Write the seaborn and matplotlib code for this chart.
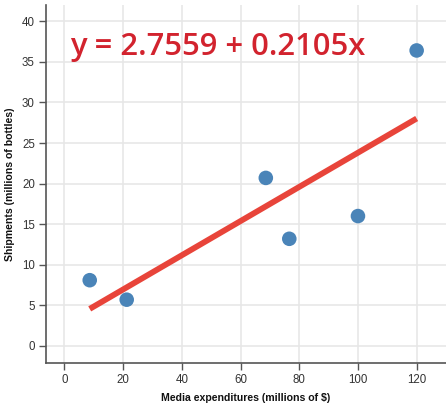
import numpy as np
import pandas as pd
import matplotlib
matplotlib.use("Agg")
import matplotlib.pyplot as plt
import seaborn as sns

# Media spend vs. shipments
media = [8.6, 21.2, 68.6, 76.6, 100.0, 120.0]
shipments = [8.1, 5.7, 20.7, 13.2, 16.0, 36.4]

# Fitted regression coefficients
intercept = 2.7559
slope = 0.2105

x_ticks = [0, 20, 40, 60, 80, 100, 120]
y_ticks = [0, 5, 10, 15, 20, 25, 30, 35, 40]

sns.set_theme(style="white")
plt.rcParams["font.family"] = ["Liberation Sans", "DejaVu Sans"]

df = pd.DataFrame({"media": media, "shipments": shipments})
fit_x = np.array([min(media), max(media)])
fit = pd.DataFrame({"media": fit_x, "shipments": intercept + slope * fit_x})

fig = plt.figure(figsize=(4.46, 4.07), dpi=100)
ax = fig.add_axes([46 / 446, 44 / 407, 400 / 446, 358 / 407])

ax.set_xlim(-6.3, 130)
ax.set_ylim(-2.1, 42)
ax.set_xticks(x_ticks)
ax.set_yticks(y_ticks)
ax.grid(True, color="#e6e6e6", linewidth=1.1)
ax.set_axisbelow(True)

sns.lineplot(data=fit, x="media", y="shipments", ax=ax, color="#e8443a",
             linewidth=4.2, solid_capstyle="butt", zorder=2)
sns.scatterplot(data=df, x="media", y="shipments", ax=ax, color="#4a84b8",
                s=110, edgecolor="none", zorder=3)

ax.text(1.8, 36.8,
        f"y = {intercept:.4f} + {slope:.4f}x",
        color="#d2232e", fontsize=22.3, fontweight=600,
        family=["Open Sans", "DejaVu Sans"], va="center", ha="left")

for side in ("top", "right"):
    ax.spines[side].set_visible(False)
for side in ("left", "bottom"):
    ax.spines[side].set_color("#555555")
    ax.spines[side].set_linewidth(1.2)

ax.tick_params(axis="both", which="both", length=5, width=1, color="#555555",
               labelsize=8.3, labelcolor="#333333", pad=3,
               bottom=True, left=True)

ax.set_xlabel("Media expenditures (millions of $)", fontsize=7.6,
              fontweight="bold", color="#111111", labelpad=5)
ax.set_ylabel("Shipments (millions of bottles)", fontsize=7.6,
              fontweight="bold", color="#111111", labelpad=5)

fig.savefig("out.png", dpi=100)
